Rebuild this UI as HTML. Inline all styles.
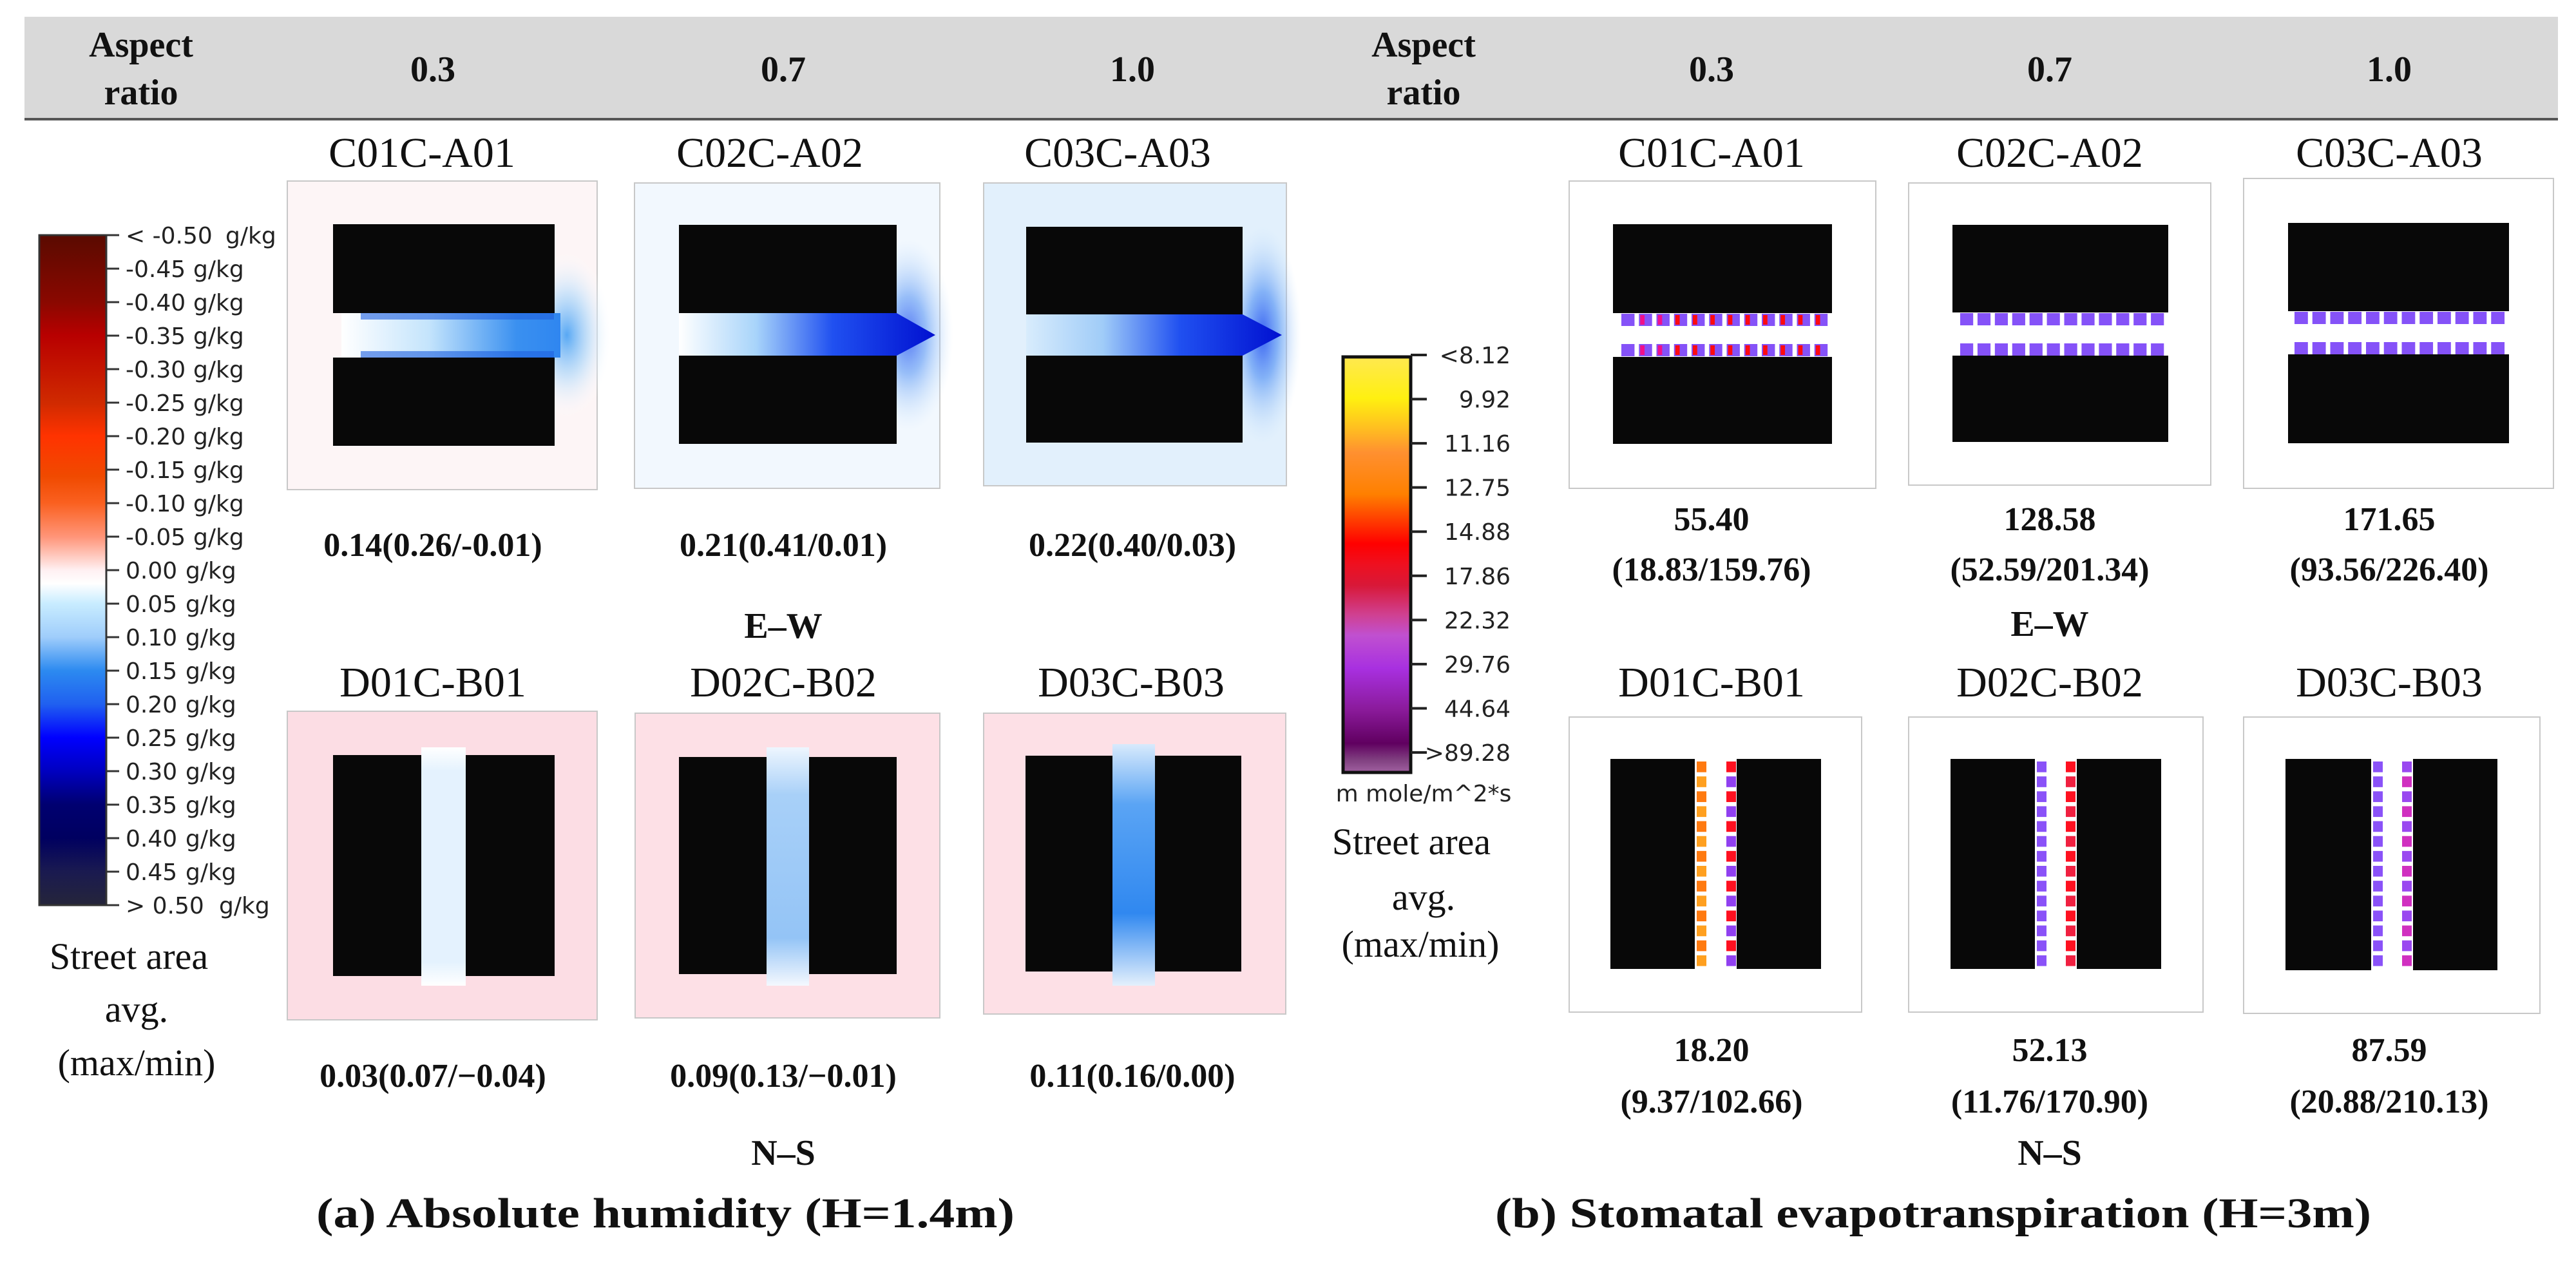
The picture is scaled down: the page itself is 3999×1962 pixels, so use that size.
<!DOCTYPE html>
<html><head><meta charset="utf-8"><title>Absolute humidity and stomatal evapotranspiration</title>
<style>
html,body{margin:0;padding:0;background:#fff;}
svg{display:block;}
.hd{font-family:"Liberation Serif",serif;font-weight:bold;font-size:56px;fill:#111;}
.lb{font-family:"Liberation Serif",serif;font-size:66px;fill:#111;}
.val{font-family:"Liberation Serif",serif;font-weight:bold;font-size:52px;fill:#111;}
.sa{font-family:"Liberation Serif",serif;font-size:58px;fill:#111;}
.cb{font-family:"DejaVu Sans","Liberation Sans",sans-serif;font-size:36px;fill:#222;}
.ttl{font-family:"Liberation Serif",serif;font-weight:bold;font-size:66px;fill:#111;}
</style></head>
<body>
<svg id="fig" width="3999" height="1962" viewBox="0 0 3999 1962" xmlns="http://www.w3.org/2000/svg">
<defs>
<linearGradient id="cbA" x1="0" y1="0" x2="0" y2="1">
<stop offset="0" stop-color="#5a0a00"/><stop offset="0.1" stop-color="#8a0800"/><stop offset="0.15" stop-color="#b80000"/>
<stop offset="0.25" stop-color="#d02a00"/><stop offset="0.3" stop-color="#ff3300"/><stop offset="0.36" stop-color="#f04a00"/>
<stop offset="0.4" stop-color="#fa6020"/><stop offset="0.45" stop-color="#ff9478"/><stop offset="0.5" stop-color="#fff0f2"/>
<stop offset="0.52" stop-color="#ffffff"/><stop offset="0.55" stop-color="#c8ecff"/><stop offset="0.6" stop-color="#9fcdfb"/>
<stop offset="0.65" stop-color="#2c8af0"/><stop offset="0.7" stop-color="#2060f0"/><stop offset="0.75" stop-color="#0000ff"/>
<stop offset="0.8" stop-color="#0000c0"/><stop offset="0.85" stop-color="#000070"/><stop offset="0.9" stop-color="#000060"/>
<stop offset="0.95" stop-color="#1a1a50"/><stop offset="1" stop-color="#25253a"/>
</linearGradient>
<linearGradient id="cbB" x1="0" y1="0" x2="0" y2="1">
<stop offset="0" stop-color="#ffe850"/><stop offset="0.1" stop-color="#fff010"/><stop offset="0.17" stop-color="#ffc020"/>
<stop offset="0.23" stop-color="#ff9030"/><stop offset="0.33" stop-color="#ff8000"/><stop offset="0.42" stop-color="#ff2000"/>
<stop offset="0.45" stop-color="#ff0000"/><stop offset="0.5" stop-color="#ee1020"/><stop offset="0.55" stop-color="#d81838"/>
<stop offset="0.62" stop-color="#d04090"/><stop offset="0.67" stop-color="#c050d0"/><stop offset="0.75" stop-color="#a830e0"/>
<stop offset="0.85" stop-color="#8a1a9a"/><stop offset="0.93" stop-color="#600060"/><stop offset="0.97" stop-color="#804080"/>
<stop offset="1" stop-color="#a060a0"/>
</linearGradient>
<linearGradient id="st1" x1="0" y1="0" x2="1" y2="0"><stop offset="0" stop-color="#ffffff"/><stop offset="0.4" stop-color="#c4e4fc"/><stop offset="0.8" stop-color="#3a90f0"/><stop offset="1" stop-color="#2f86f0"/></linearGradient>
<linearGradient id="st2" x1="0" y1="0" x2="1" y2="0"><stop offset="0" stop-color="#ffffff"/><stop offset="0.3" stop-color="#a8d4fa"/><stop offset="0.6" stop-color="#2050f0"/><stop offset="1" stop-color="#0010d0"/></linearGradient>
<linearGradient id="st3" x1="0" y1="0" x2="1" y2="0"><stop offset="0" stop-color="#d8ecfc"/><stop offset="0.3" stop-color="#a0ccf8"/><stop offset="0.6" stop-color="#2050f0"/><stop offset="1" stop-color="#0010d0"/></linearGradient>
<radialGradient id="pl1"><stop offset="0" stop-color="#58a8f4"/><stop offset="0.5" stop-color="#b8dcfa" stop-opacity="0.7"/><stop offset="1" stop-color="#ffffff" stop-opacity="0"/></radialGradient>
<radialGradient id="pl2"><stop offset="0" stop-color="#1040f0"/><stop offset="0.4" stop-color="#5090f4" stop-opacity="0.8"/><stop offset="1" stop-color="#c8e4fc" stop-opacity="0"/></radialGradient>
<linearGradient id="ns1" x1="0" y1="0" x2="0" y2="1"><stop offset="0" stop-color="#fff"/><stop offset="0.1" stop-color="#e4f2fe"/><stop offset="0.9" stop-color="#e4f2fe"/><stop offset="1" stop-color="#fff"/></linearGradient>
<linearGradient id="ns2" x1="0" y1="0" x2="0" y2="1"><stop offset="0" stop-color="#eef6fe"/><stop offset="0.2" stop-color="#a8d0f8"/><stop offset="0.8" stop-color="#94c4f6"/><stop offset="1" stop-color="#f4f8fe"/></linearGradient>
<linearGradient id="ns3" x1="0" y1="0" x2="0" y2="1"><stop offset="0" stop-color="#d8eafc"/><stop offset="0.25" stop-color="#5aa4f4"/><stop offset="0.7" stop-color="#3088f0"/><stop offset="1" stop-color="#e4f0fc"/></linearGradient>
</defs>

<!-- header -->
<rect x="38" y="26" width="3933" height="159" fill="#d9d9d9"/>
<rect x="38" y="183" width="3933" height="4" fill="#555"/>
<g class="hd" text-anchor="middle">
<text x="219" y="88">Aspect</text>
<text x="219" y="162">ratio</text>
<text x="672" y="126">0.3</text><text x="1216" y="126">0.7</text><text x="1758" y="126">1.0</text>
<text x="2210" y="88">Aspect</text>
<text x="2210" y="162">ratio</text>
<text x="2657" y="126">0.3</text><text x="3182" y="126">0.7</text><text x="3709" y="126">1.0</text>
</g>

<!-- case labels -->
<g class="lb" text-anchor="middle">
<text x="655" y="259">C01C-A01</text><text x="1195" y="259">C02C-A02</text><text x="1735" y="259">C03C-A03</text>
<text x="672" y="1081">D01C-B01</text><text x="1216" y="1081">D02C-B02</text><text x="1756" y="1081">D03C-B03</text>
<text x="2657" y="259">C01C-A01</text><text x="3182" y="259">C02C-A02</text><text x="3709" y="259">C03C-A03</text>
<text x="2657" y="1081">D01C-B01</text><text x="3182" y="1081">D02C-B02</text><text x="3709" y="1081">D03C-B03</text>
</g>

<!-- (a) humidity E-W panels -->
<g>
<rect x="446" y="281" width="481" height="479" fill="#fdf5f6" stroke="#c8c8c8" stroke-width="2"/>
<ellipse cx="880" cy="520" rx="70" ry="130" fill="url(#pl1)"/>
<rect x="530" y="486" width="340" height="69" fill="url(#st1)"/>
<rect x="560" y="486" width="300" height="10" fill="#2060e0" opacity="0.6"/>
<rect x="560" y="545" width="300" height="10" fill="#2060e0" opacity="0.6"/>
<rect x="517" y="348" width="344" height="138" fill="#080808"/>
<rect x="517" y="555" width="344" height="137" fill="#080808"/>
</g>
<g>
<rect x="985" y="284" width="474" height="474" fill="#f2f8fe" stroke="#c8c8c8" stroke-width="2"/>
<ellipse cx="1410" cy="520" rx="70" ry="150" fill="url(#pl2)" opacity="0.7"/>
<polygon points="1054,486 1300,486 1392,486 1452,520 1392,552 1300,552 1054,552" fill="url(#st2)"/>
<rect x="1054" y="349" width="338" height="137" fill="#080808"/>
<rect x="1054" y="552" width="338" height="137" fill="#080808"/>
</g>
<g>
<rect x="1527" y="284" width="470" height="470" fill="#e2f0fc" stroke="#c8c8c8" stroke-width="2"/>
<ellipse cx="1960" cy="520" rx="60" ry="170" fill="url(#pl2)" opacity="0.8"/>
<polygon points="1593,488 1929,488 1990,520 1929,552 1593,552" fill="url(#st3)"/>
<rect x="1593" y="352" width="336" height="136" fill="#080808"/>
<rect x="1593" y="552" width="336" height="135" fill="#080808"/>
</g>

<!-- (a) humidity N-S panels -->
<g>
<rect x="446" y="1104" width="481" height="479" fill="#fcdde4" stroke="#c8c8c8" stroke-width="2"/>
<rect x="654" y="1160" width="69" height="370" fill="url(#ns1)"/>
<rect x="517" y="1172" width="137" height="343" fill="#080808"/>
<rect x="723" y="1172" width="138" height="343" fill="#080808"/>
</g>
<g>
<rect x="986" y="1107" width="473" height="473" fill="#fde0e6" stroke="#c8c8c8" stroke-width="2"/>
<rect x="1190" y="1160" width="66" height="370" fill="url(#ns2)"/>
<rect x="1054" y="1175" width="136" height="337" fill="#080808"/>
<rect x="1256" y="1175" width="136" height="337" fill="#080808"/>
</g>
<g>
<rect x="1527" y="1107" width="469" height="467" fill="#fde0e6" stroke="#c8c8c8" stroke-width="2"/>
<rect x="1727" y="1155" width="66" height="375" fill="url(#ns3)"/>
<rect x="1592" y="1173" width="135" height="335" fill="#080808"/>
<rect x="1793" y="1173" width="134" height="335" fill="#080808"/>
</g>

<!-- (b) ET panels -->
<g>
<rect x="2436" y="281" width="476" height="477" fill="#fff" stroke="#c8c8c8" stroke-width="2"/>
<rect x="2504" y="348" width="340" height="138" fill="#080808"/>
<rect x="2504" y="554" width="340" height="135" fill="#080808"/>
<g id="vegC01"></g>
</g>
<g>
<rect x="2963" y="284" width="469" height="469" fill="#fff" stroke="#c8c8c8" stroke-width="2"/>
<rect x="3031" y="349" width="335" height="136" fill="#080808"/>
<rect x="3031" y="552" width="335" height="134" fill="#080808"/>
<g id="vegC02"></g>
</g>
<g>
<rect x="3483" y="277" width="481" height="481" fill="#fff" stroke="#c8c8c8" stroke-width="2"/>
<rect x="3552" y="346" width="343" height="137" fill="#080808"/>
<rect x="3552" y="550" width="343" height="138" fill="#080808"/>
<g id="vegC03"></g>
</g>
<g>
<rect x="2436" y="1113" width="454" height="458" fill="#fff" stroke="#c8c8c8" stroke-width="2"/>
<rect x="2500" y="1178" width="131" height="326" fill="#080808"/>
<rect x="2696" y="1178" width="131" height="326" fill="#080808"/>
<g id="vegD01"></g>
</g>
<g>
<rect x="2963" y="1113" width="457" height="458" fill="#fff" stroke="#c8c8c8" stroke-width="2"/>
<rect x="3028" y="1178" width="131" height="326" fill="#080808"/>
<rect x="3224" y="1178" width="131" height="326" fill="#080808"/>
<g id="vegD02"></g>
</g>
<g>
<rect x="3483" y="1113" width="460" height="460" fill="#fff" stroke="#c8c8c8" stroke-width="2"/>
<rect x="3548" y="1178" width="133" height="328" fill="#080808"/>
<rect x="3746" y="1178" width="131" height="328" fill="#080808"/>
<g id="vegD03"></g>
</g>

<!-- colorbars -->
<g>
<rect x="61" y="365" width="104" height="1040" fill="url(#cbA)" stroke="#333" stroke-width="3"/>
<g id="ticksA" class="cb"></g>
</g>
<g>
<rect x="2085" y="554" width="105" height="645" fill="url(#cbB)" stroke="#111" stroke-width="5"/>
<g id="ticksB" class="cb"></g>
<text class="cb" x="2210" y="1244" text-anchor="middle" font-size="34">m mole/m^2*s</text>
</g>

<!-- street area labels -->
<g class="sa" text-anchor="middle">
<text x="200" y="1504">Street area</text><text x="212" y="1586">avg.</text><text x="212" y="1669">(max/min)</text>
</g>
<g class="sa" text-anchor="middle">
<text x="2191" y="1326">Street area</text><text x="2210" y="1412">avg.</text><text x="2205" y="1485">(max/min)</text>
</g>

<!-- values -->
<g class="val" text-anchor="middle" id="valuesA"></g>
<g class="val" text-anchor="middle" id="valuesB"></g>

<g class="hd" text-anchor="middle">
<text x="1216" y="990">E–W</text><text x="1216" y="1808">N–S</text>
<text x="3182" y="987">E–W</text><text x="3182" y="1808">N–S</text>
</g>
<text class="ttl" x="1033" y="1905" text-anchor="middle" textLength="1084" lengthAdjust="spacingAndGlyphs">(a)  Absolute humidity (H=1.4m)</text>
<text class="ttl" x="3001" y="1905" text-anchor="middle" textLength="1360" lengthAdjust="spacingAndGlyphs">(b)  Stomatal evapotranspiration (H=3m)</text>
</svg>
<script>
const humidityTicks = ["< -0.50","-0.45","-0.40","-0.35","-0.30","-0.25","-0.20","-0.15","-0.10","-0.05","0.00","0.05","0.10","0.15","0.20","0.25","0.30","0.35","0.40","0.45","> 0.50"];
const etTicks = ["<8.12","9.92","11.16","12.75","14.88","17.86","22.32","29.76","44.64",">89.28"];
const humidityValues = ["0.14(0.26/-0.01)","0.21(0.41/0.01)","0.22(0.40/0.03)","0.03(0.07/−0.04)","0.09(0.13/−0.01)","0.11(0.16/0.00)"];
const etAvg = ["55.40","128.58","171.65","18.20","52.13","87.59"];
const etRange = ["(18.83/159.76)","(52.59/201.34)","(93.56/226.40)","(9.37/102.66)","(11.76/170.90)","(20.88/210.13)"];
const NS = "http://www.w3.org/2000/svg";
function mk(tag, attrs, parent){const e=document.createElementNS(NS,tag);for(const k in attrs)e.setAttribute(k,attrs[k]);parent.appendChild(e);return e;}

// humidity colorbar ticks
const tA = document.getElementById('ticksA');
humidityTicks.forEach((t,i)=>{
  const y = 365 + i*(1040/(humidityTicks.length-1));
  const l = mk('line',{x1:165,x2:185,y1:y,y2:y,stroke:'#333','stroke-width':3},tA);
  
  
  const tx = mk('text',{x:195,y:y+13},tA);
  
  
  tx.textContent = t;
  const edge = (i===0||i===humidityTicks.length-1);
  const neg = t.indexOf('-')>=0;
  const ux = edge ? (i===0?350:340) : (neg?300:288);
  const u = mk('text',{x:ux,y:y+13},tA);
  
  
  u.textContent = 'g/kg';
});
// ET colorbar ticks
const tB = document.getElementById('ticksB');
etTicks.forEach((t,i)=>{
  const y = 551 + i*(617/(etTicks.length-1));
  const l = mk('line',{x1:2190,x2:2215,y1:y,y2:y,stroke:'#222',"stroke-width":4},tB);
  
  
  const tx = mk('text',{x:2345,y:y+13,'text-anchor':'end'},tB);
  
  
  tx.textContent = t;
});
// values
const vA = document.getElementById('valuesA');
const posA = [[672,863],[1216,863],[1758,863],[672,1687],[1216,1687],[1758,1687]];
humidityValues.forEach((v,i)=>{
  const tx = mk('text',{x:posA[i][0],y:posA[i][1]},vA);
  
  
  tx.textContent = v;
});
const vB = document.getElementById('valuesB');
const colB = [2657,3182,3709];
etAvg.forEach((v,i)=>{
  const x = colB[i%3], top = i<3;
  const a = mk('text',{x:x,y: top?823:1647},vB);
  
  
  a.textContent = v;
  const b = mk('text',{x:x,y: top?901:1727},vB);
  
  
  b.textContent = etRange[i];
});
// vegetation squares
function rowH(id,x0,x1,ys,redFrac){
  const g=document.getElementById(id);const n=12;const p=(x1-x0)/n;
  ys.forEach(y=>{for(let i=0;i<n;i++){
    const r=mk('rect',{x:x0+i*p,y:y,width:p*0.75,height:19,fill:'#8552f8'},g);
    
    
    if(redFrac&&i>0){mk('rect',{x:x0+i*p+2,y:y+2,width:p*0.25,height:15,fill:i<3?'#f0108a':'#ff0a10'},g);}
  }});
}
rowH('vegC01',2517,2844,[487,534],true);
rowH('vegC02',3043,3366,[486,533],false);
rowH('vegC03',3562,3895,[484,531],false);
function colV(id,xs,y0,y1,cols){
  const g=document.getElementById(id);const n=14;const p=(y1-y0)/n;
  xs.forEach((x,k)=>{for(let i=0;i<n;i++){
    const r=mk('rect',{x:x,y:y0+i*p+2,width:15,height:p*0.72,fill:cols[k][i%cols[k].length]},g);
    
    
  }});
}
colV('vegD01',[2634,2680],1180,1504,[['#ff7a10','#ffa020'],['#ff1020','#9040f0']]);
colV('vegD02',[3162,3207],1180,1504,[['#8a52f8'],['#ff1020','#f02040']]);
colV('vegD03',[3684,3729],1180,1504,[['#8a52f8'],['#9a48f0','#d030c0']]);
</script>
</body></html>
